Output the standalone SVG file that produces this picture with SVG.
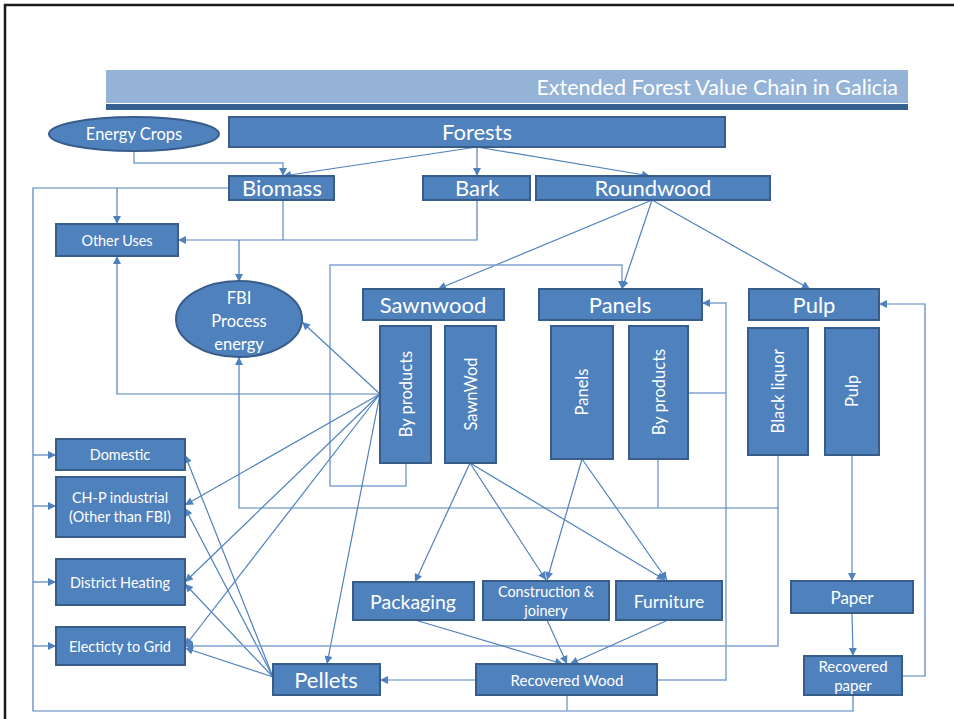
<svg xmlns="http://www.w3.org/2000/svg" width="954" height="719" viewBox="0 0 954 719">
<style>
.bx{fill:#4F81BD;stroke:#385D8A;stroke-width:2}
.t{fill:#fff;font-family:Lato,"Open Sans",sans-serif;text-anchor:middle}
.ln{fill:none;stroke:#4F81BD;stroke-width:1.2}
.lt{fill:none;stroke:#7FA3D0;stroke-width:1.5}
</style>
<defs>
<marker id="a" viewBox="0 0 10 10" refX="10" refY="5" markerWidth="9" markerHeight="8" orient="auto" markerUnits="userSpaceOnUse"><path d="M0,0 L10,5 L0,10 z" fill="#4F81BD"/></marker>
</defs>
<rect width="954" height="719" fill="#fff"/>
<path d="M5,719 V5 H954" fill="none" stroke="#1b1b1b" stroke-width="2.5"/>
<g id="title">
<rect x="106" y="70" width="802" height="33" fill="#95B3D7"/>
<rect x="106" y="104" width="802" height="6" fill="#366092"/>
<text x="898" y="95" font-family="Lato,'Open Sans',sans-serif" font-size="21.5" fill="#fff" text-anchor="end">Extended Forest Value Chain in Galicia</text>
</g>
<g id="connectors">
<path class="ln" d="M477,147 L283,176" marker-end="url(#a)"/>
<path class="ln" d="M477,147 L477,176" marker-end="url(#a)"/>
<path class="ln" d="M477,147 L650,176" marker-end="url(#a)"/>
<path class="lt" d="M134,151 V163 H283 V176" marker-end="url(#a)"/>
<path class="ln" d="M229,188 H33 V711 H853 V695"/>
<path class="lt" d="M567,695 V711"/>
<path class="ln" d="M33,455 H56" marker-end="url(#a)"/>
<path class="ln" d="M33,506 H56" marker-end="url(#a)"/>
<path class="ln" d="M33,582 H56" marker-end="url(#a)"/>
<path class="ln" d="M33,646 H56" marker-end="url(#a)"/>
<path class="ln" d="M117,188 V224" marker-end="url(#a)"/>
<path class="lt" d="M283,200 V240"/>
<path class="ln" d="M477,200 V240 H178" marker-end="url(#a)"/>
<path class="ln" d="M239,240 V282" marker-end="url(#a)"/>
<path class="ln" d="M652,200 L438,289" marker-end="url(#a)"/>
<path class="ln" d="M652,200 L622,289" marker-end="url(#a)"/>
<path class="ln" d="M652,200 L810,289" marker-end="url(#a)"/>
<path class="lt" d="M406,463 V486 H330 V265 H622 V289" marker-end="url(#a)"/>
<path class="ln" d="M380,394 L302,322" marker-end="url(#a)"/>
<path class="ln" d="M380,394 H117 V256" marker-end="url(#a)"/>
<path class="ln" d="M380,394 L185,505" marker-end="url(#a)"/>
<path class="ln" d="M380,394 L185,582" marker-end="url(#a)"/>
<path class="ln" d="M380,394 L185,646" marker-end="url(#a)"/>
<path class="ln" d="M380,394 L327,664" marker-end="url(#a)"/>
<path class="ln" d="M273,677 L185,455" marker-end="url(#a)"/>
<path class="ln" d="M273,677 L185,508" marker-end="url(#a)"/>
<path class="ln" d="M273,677 L185,584" marker-end="url(#a)"/>
<path class="ln" d="M273,677 L185,648" marker-end="url(#a)"/>
<path class="ln" d="M476,680 H380" marker-end="url(#a)"/>
<path class="lt" d="M657,680 H726 V303 H702" marker-end="url(#a)"/>
<path class="lt" d="M688,393 H726"/>
<path class="ln" d="M902,676 H925 V304 H879" marker-end="url(#a)"/>
<path class="lt" d="M852,455 V581" marker-end="url(#a)"/>
<path class="ln" d="M852,613 L853,656" marker-end="url(#a)"/>
<path class="lt" d="M778,455 V646 H185" marker-end="url(#a)"/>
<path class="ln" d="M778,508 H239 V357" marker-end="url(#a)"/>
<path class="lt" d="M658,459 V508"/>
<path class="ln" d="M470,463 L415,582" marker-end="url(#a)"/>
<path class="ln" d="M470,463 L546,580" marker-end="url(#a)"/>
<path class="ln" d="M470,463 L665,580" marker-end="url(#a)"/>
<path class="ln" d="M582,459 L547,580" marker-end="url(#a)"/>
<path class="ln" d="M582,459 L667,580" marker-end="url(#a)"/>
<path class="ln" d="M415,620 L563,664" marker-end="url(#a)"/>
<path class="ln" d="M547,620 L567,664" marker-end="url(#a)"/>
<path class="ln" d="M668,620 L570,664" marker-end="url(#a)"/>
</g>
<g id="energy-crops"><ellipse class="bx" cx="134" cy="134" rx="85" ry="17"/><text class="t" x="134" y="140" font-size="16.5">Energy Crops</text></g>
<g id="forests"><rect class="bx" x="229" y="117" width="496" height="30"/><text class="t" x="477" y="140" font-size="22">Forests</text></g>
<g id="biomass"><rect class="bx" x="229" y="176" width="105" height="24"/><text class="t" x="282" y="196" font-size="22">Biomass</text></g>
<g id="bark"><rect class="bx" x="423" y="176" width="107" height="24"/><text class="t" x="477" y="196" font-size="22">Bark</text></g>
<g id="roundwood"><rect class="bx" x="536" y="176" width="234" height="24"/><text class="t" x="653" y="196" font-size="22">Roundwood</text></g>
<g id="other-uses"><rect class="bx" x="56" y="224" width="122" height="32"/><text class="t" x="117" y="245.5" font-size="14.4">Other Uses</text></g>
<g id="fbi"><ellipse class="bx" cx="239" cy="319" rx="63" ry="38"/><text class="t" x="239" y="304" font-size="16.5">FBI</text><text class="t" x="239" y="327" font-size="16.5">Process</text><text class="t" x="239" y="350" font-size="16.5">energy</text></g>
<g id="sawnwood"><rect class="bx" x="363" y="289" width="141" height="31"/><text class="t" x="433" y="312.5" font-size="22">Sawnwood</text></g>
<g id="panels"><rect class="bx" x="539" y="289" width="163" height="31"/><text class="t" x="620" y="312.5" font-size="22">Panels</text></g>
<g id="pulp"><rect class="bx" x="749" y="289" width="130" height="31"/><text class="t" x="814" y="312.5" font-size="22">Pulp</text></g>
<g id="sw-byproducts"><rect class="bx" x="380" y="326" width="51" height="137"/><text class="t" transform="translate(411.5,394) rotate(-90)" font-size="16.5">By products</text></g>
<g id="sawnwod"><rect class="bx" x="445" y="326" width="51" height="137"/><text class="t" transform="translate(476.5,394) rotate(-90)" font-size="16.5">SawnWod</text></g>
<g id="panels-v"><rect class="bx" x="551" y="326" width="62" height="133"/><text class="t" transform="translate(587.5,392) rotate(-90)" font-size="16.5">Panels</text></g>
<g id="pn-byproducts"><rect class="bx" x="629" y="326" width="59" height="133"/><text class="t" transform="translate(664.5,392) rotate(-90)" font-size="16.5">By products</text></g>
<g id="black-liquor"><rect class="bx" x="748" y="328" width="60" height="127"/><text class="t" transform="translate(784,391) rotate(-90)" font-size="16.5">Black liquor</text></g>
<g id="pulp-v"><rect class="bx" x="825" y="328" width="54" height="127"/><text class="t" transform="translate(858,391) rotate(-90)" font-size="16.5">Pulp</text></g>
<g id="domestic"><rect class="bx" x="56" y="439" width="129" height="31"/><text class="t" x="120" y="460" font-size="14.4">Domestic</text></g>
<g id="chp"><rect class="bx" x="56" y="477" width="129" height="60"/><text class="t" x="120" y="503" font-size="14.4">CH-P industrial</text><text class="t" x="120" y="522" font-size="14.4">(Other than FBI)</text></g>
<g id="district-heating"><rect class="bx" x="56" y="559" width="129" height="46"/><text class="t" x="120" y="587.5" font-size="14.4">District Heating</text></g>
<g id="grid"><rect class="bx" x="56" y="627" width="129" height="38"/><text class="t" x="120" y="651.5" font-size="14.4">Electicty to Grid</text></g>
<g id="packaging"><rect class="bx" x="353" y="582" width="121" height="38"/><text class="t" x="413" y="608.5" font-size="19.5">Packaging</text></g>
<g id="construction"><rect class="bx" x="483" y="581" width="126" height="39"/><text class="t" x="546" y="597" font-size="14.4">Construction &amp;</text><text class="t" x="546" y="615.5" font-size="14.4">joinery</text></g>
<g id="furniture"><rect class="bx" x="616" y="581" width="106" height="39"/><text class="t" x="669" y="607.5" font-size="17.5">Furniture</text></g>
<g id="paper"><rect class="bx" x="791" y="581" width="122" height="32"/><text class="t" x="852" y="603.5" font-size="17">Paper</text></g>
<g id="recovered-paper"><rect class="bx" x="804" y="656" width="98" height="39"/><text class="t" x="853" y="672" font-size="15">Recovered</text><text class="t" x="853" y="691" font-size="15">paper</text></g>
<g id="pellets"><rect class="bx" x="273" y="664" width="107" height="31"/><text class="t" x="326" y="688" font-size="22">Pellets</text></g>
<g id="recovered-wood"><rect class="bx" x="476" y="664" width="181" height="31"/><text class="t" x="567" y="685.5" font-size="15">Recovered Wood</text></g>
</svg>
